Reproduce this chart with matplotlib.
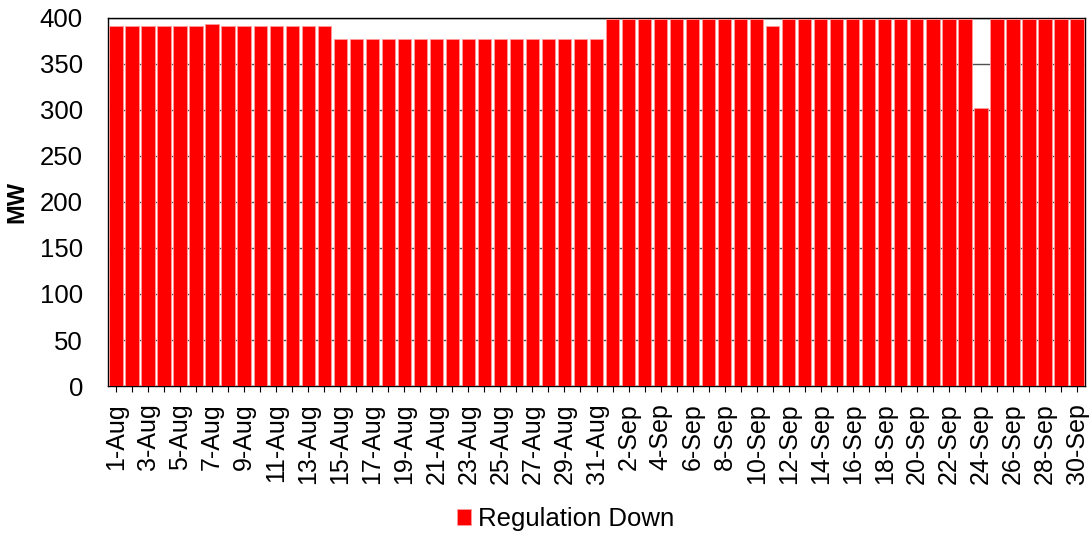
import numpy as np
import pandas as pd
import matplotlib
matplotlib.use('Agg')
import matplotlib.pyplot as plt

plt.rcParams['font.family'] = ['Liberation Sans', 'DejaVu Sans']

# daily values, MW
aug = [391]*6 + [393] + [391]*7 + [377]*17
sep = [398]*10 + [391] + [398]*12 + [302] + [398]*6
values = aug + sep
days = pd.date_range('2000-08-01', '2000-09-30', freq='D')
labels = ['{:d}-{:}'.format(d.day, d.strftime('%b')) for d in days]
series_name = 'Regulation Down'

fig = plt.figure(figsize=(10.92, 5.34), dpi=100)
ax = fig.add_axes([0.0989, 0.277, 0.8947, 0.690])
x = np.arange(len(values))
ax.bar(x, values, width=0.83, color='#ff0000', edgecolor='#ff9a9a', linewidth=0.6,
       label=series_name, zorder=3)
ax.set_xlim(-0.5, len(values) - 0.5)
ax.set_ylim(0, 400)
ax.set_yticks(range(0, 401, 50))
ax.yaxis.grid(True, color='#505050', linewidth=1.0, zorder=0)
ax.set_xticks(x)
ax.set_xticklabels([l if i % 2 == 0 else '' for i, l in enumerate(labels)], rotation=90)
ax.tick_params(axis='x', direction='out', length=4.5, labelsize=18, pad=8)
ax.tick_params(axis='y', direction='out', length=0, labelsize=18.5, pad=18)
for s in ax.spines.values():
    s.set_linewidth(1.0)
    s.set_color('black')
ax.set_ylabel('MW', fontsize=17, fontweight='bold')
ax.yaxis.set_label_coords(-0.082, 0.5)
fig.legend(loc='center', bbox_to_anchor=(0.518, 0.028), frameon=False, fontsize=18.5,
           handlelength=0.53, handleheight=0.53, handletextpad=0.27,
           borderpad=0, borderaxespad=0)
fig.savefig('out.png', dpi=100)
